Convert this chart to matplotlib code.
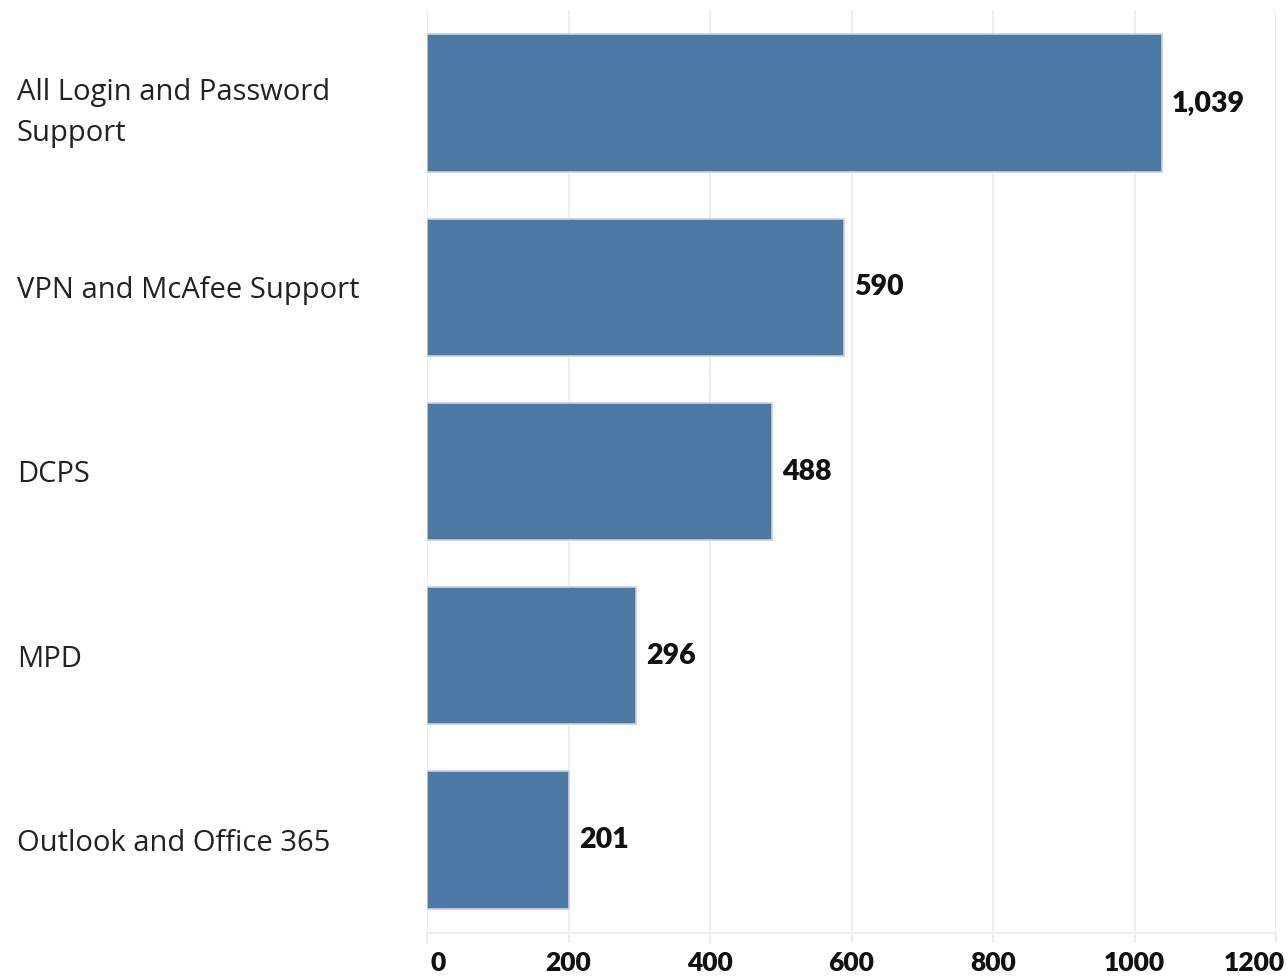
import matplotlib
matplotlib.use("Agg")
import matplotlib.pyplot as plt
import matplotlib.transforms as mtransforms

categories = ["All Login and Password\nSupport", "VPN and McAfee Support", "DCPS", "MPD",
              "Outlook and Office 365"]
values = [1039, 590, 488, 296, 201]
value_labels = ["1,039", "590", "488", "296", "201"]
xticks = [0, 200, 400, 600, 800, 1000, 1200]

plt.rcParams['font.family'] = ['Lato', 'DejaVu Sans']

fig = plt.figure(figsize=(12.88, 9.8), dpi=100)
ax = fig.add_axes([427 / 1288, 47 / 980, (1276 - 427) / 1288, 923 / 980])

ypos = list(range(len(categories)))
ax.barh(ypos, values, height=0.745, color="#4C78A5", edgecolor="#c9d1db", linewidth=1.2, zorder=3)

for y, v, lab in zip(ypos, values, value_labels):
    ax.annotate(lab, (v, y), xytext=(7, 0), textcoords="offset points", ha="left", va="center",
                fontsize=20.5, fontweight="heavy", color="#111111")

ax.set_xlim(0, 1200)
ax.set_ylim(4.505, -0.505)
ax.set_xticks(xticks)
ax.set_xticklabels([str(t) for t in xticks])
ax.set_yticks(ypos)
ax.set_yticklabels(categories)

ax.grid(axis="x", color="#eeeeee", linewidth=1.5, zorder=0)
for s in ["top", "right", "left"]:
    ax.spines[s].set_visible(False)
ax.spines["bottom"].set_color("#eeeeee")
ax.spines["bottom"].set_linewidth(1.5)

ax.tick_params(axis="x", length=7, width=1.5, color="#eeeeee", pad=6, labelsize=19)
ax.tick_params(axis="y", length=0, pad=410 * 72 / 100)
for t in ax.get_yticklabels():
    t.set_ha("left")
    t.set_linespacing(1.55)
    t.set_fontfamily(["Open Sans", "DejaVu Sans"])
    t.set_fontsize(21)
    t.set_color("#222222")
xl = ax.get_xticklabels()
for t in xl:
    t.set_fontweight("heavy")
    t.set_color("#111111")
xl[0].set_ha("left")
xl[0].set_transform(xl[0].get_transform() + mtransforms.ScaledTranslation(4 / 100, 0, fig.dpi_scale_trans))
xl[-1].set_ha("right")
xl[-1].set_transform(xl[-1].get_transform() + mtransforms.ScaledTranslation(9 / 100, 0, fig.dpi_scale_trans))

fig.savefig("out.png", dpi=100)
